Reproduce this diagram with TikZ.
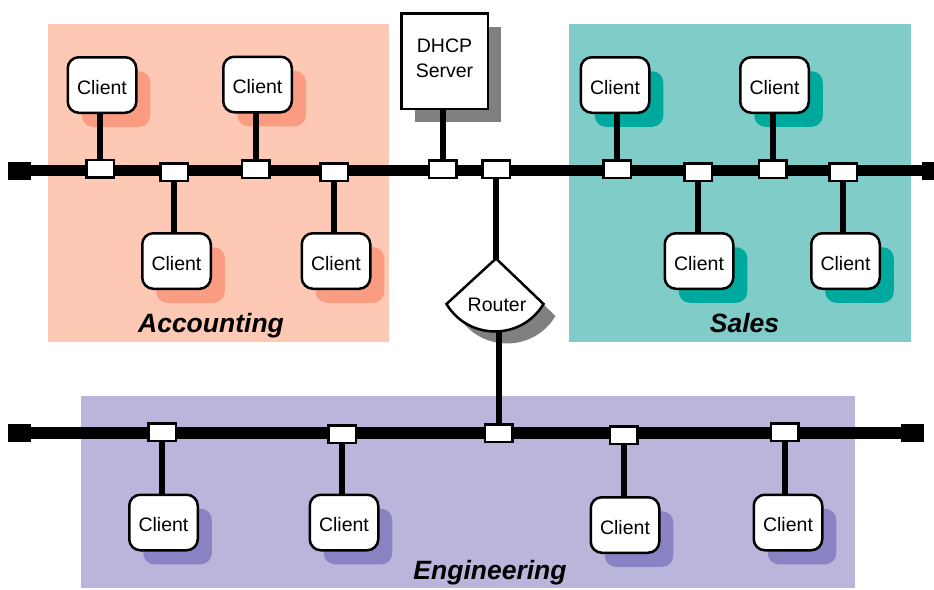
\documentclass[tikz,border=0pt]{standalone}
\usepackage{fontspec}
\setmainfont{Liberation Sans}
\definecolor{accbg}{HTML}{FDC9B4}
\definecolor{accsh}{HTML}{F99C82}
\definecolor{salbg}{HTML}{7FCCC8}
\definecolor{salsh}{HTML}{00A99D}
\definecolor{engbg}{HTML}{B9B5DB}
\definecolor{engsh}{HTML}{8A83C3}
\definecolor{srvsh}{HTML}{808080}
\pgfdeclarelayer{bg}
\pgfdeclarelayer{mid}
\pgfsetlayers{bg,mid,main}
\begin{document}
\begin{tikzpicture}[x=1pt,y=-1pt,
  txt/.style={font=\fontsize{19.5}{25}\selectfont},
  client/.style={txt, draw=black, line width=2.5pt, fill=white, rounded corners=11pt,
    minimum width=68.5pt, minimum height=55.5pt, inner sep=0pt, text height=18pt, text depth=0pt},
  server/.style={txt, draw=black, line width=2.5pt, fill=white,
    minimum width=86.5pt, minimum height=95.5pt, inner sep=0pt, align=center, text depth=6pt},
  tap/.style={draw=black, line width=2.5pt, fill=white, minimum width=27.5pt,
    minimum height=17.5pt, inner sep=0pt},
  endcap/.style={fill=black, minimum width=23pt, minimum height=18pt, inner sep=0pt},
  bus/.style={line width=11.5pt},
  stub/.style={line width=6pt},
  routerline/.style={draw=black, line width=2.5pt, fill=white, line join=miter},
  area/.style={anchor=base, font=\fontsize{26.5}{30}\selectfont\bfseries\itshape},
  shadowbox/.style={rounded corners=11pt}
]
\useasboundingbox (0,0) rectangle (934,589);

% ---------- regions and shadows ----------
\begin{pgfonlayer}{bg}
  \fill[accbg] (48,24) rectangle (389,342);
  \fill[salbg] (569,24) rectangle (911,342);
  \fill[engbg] (81,396) rectangle (855,588);
  \foreach \x/\y in {102/85, 257.5/84.5, 176.5/261, 336/261}
    \fill[accsh, shadowbox] (\x-20.25,\y-13.75) rectangle ++(68.5,55.5);
  \foreach \x/\y in {615/85, 774.5/85, 699/261, 845.5/261}
    \fill[salsh, shadowbox] (\x-20.25,\y-13.75) rectangle ++(68.5,55.5);
  \foreach \x/\y in {163.5/522.5, 344/522.5, 625/525, 788/522.5}
    \fill[engsh, shadowbox] (\x-20.25,\y-13.75) rectangle ++(68.5,55.5);
  \fill[srvsh] (414.75,26.75) rectangle (501.25,122.25);
  \fill[srvsh, shift={(12,12)}] (496,258.5) -- (543.5,304)
     .. controls (521.6,340.6) and (468.4,340.6) .. (446.5,304) -- cycle;
\end{pgfonlayer}

% ---------- area labels ----------
\node[area] (acclabel) at (211,332) {Accounting};
\node[area] (sallabel) at (744.5,332) {Sales};
\node[area] (englabel) at (490,579.5) {Engineering};

% ---------- bus end caps ----------
\node[endcap] (capTL) at (19.5,170.5) {};
\node[endcap] (capTR) at (933.5,170.5) {};
\node[endcap] (capBL) at (19.5,433) {};
\node[endcap] (capBR) at (912.5,433) {};

% ---------- clients ----------
\node[client] (a1) at (102,85) {Client};
\node[client] (a2) at (257.5,84.5) {Client};
\node[client] (a3) at (176.5,261) {Client};
\node[client] (a4) at (336,261) {Client};
\node[client] (s1) at (615,85) {Client};
\node[client] (s2) at (774.5,85) {Client};
\node[client] (s3) at (699,261) {Client};
\node[client] (s4) at (845.5,261) {Client};
\node[client] (e1) at (163.5,522.5) {Client};
\node[client] (e2) at (344,522.5) {Client};
\node[client] (e3) at (625,525) {Client};
\node[client] (e4) at (788,522.5) {Client};

% ---------- DHCP server ----------
\node[server] (dhcp) at (444.5,61) {DHCP\\Server};

% ---------- router ----------
\coordinate (rtop) at (496,258.5);
\coordinate (rright) at (543.5,304);
\coordinate (rleft) at (446.5,304);
\coordinate (rbot) at (495,331.5);
\draw[routerline] (rtop) -- (rright)
   .. controls (521.6,340.6) and (468.4,340.6) .. (rleft) -- cycle;
\node[txt, inner sep=0pt] (router) at (497,305) {Router};

% ---------- taps ----------
\node[tap] (ta1) at (100,168.5) {};
\node[tap] (ta3) at (174,172) {};
\node[tap] (ta2) at (255.5,169) {};
\node[tap] (ta4) at (334,172) {};
\node[tap] (td) at (442.5,169) {};
\node[tap] (tr) at (496,169) {};
\node[tap] (ts1) at (617,169) {};
\node[tap] (ts3) at (698,172) {};
\node[tap] (ts2) at (772.5,169) {};
\node[tap] (ts4) at (843,172) {};
\node[tap] (te1) at (162,432) {};
\node[tap] (te2) at (342,434) {};
\node[tap] (ter) at (498.5,433) {};
\node[tap] (te3) at (623.5,435) {};
\node[tap] (te4) at (784.5,432) {};

% ---------- bus lines and stubs ----------
\begin{pgfonlayer}{mid}
  \draw[bus] (capTL) -- (capTR);
  \draw[bus] (capBL) -- (capBR);
  \foreach \t/\c in {ta1/a1, ta2/a2, ta3/a3, ta4/a4, ts1/s1, ts2/s2, ts3/s3, ts4/s4,
                     te1/e1, te2/e2, te3/e3, te4/e4, td/dhcp}
    \draw[stub] (\t) -- (\t |- \c);
  \draw[stub] (tr) -- (rtop);
  \draw[stub] (ter) -- (ter |- rbot);
\end{pgfonlayer}
\end{tikzpicture}
\end{document}
